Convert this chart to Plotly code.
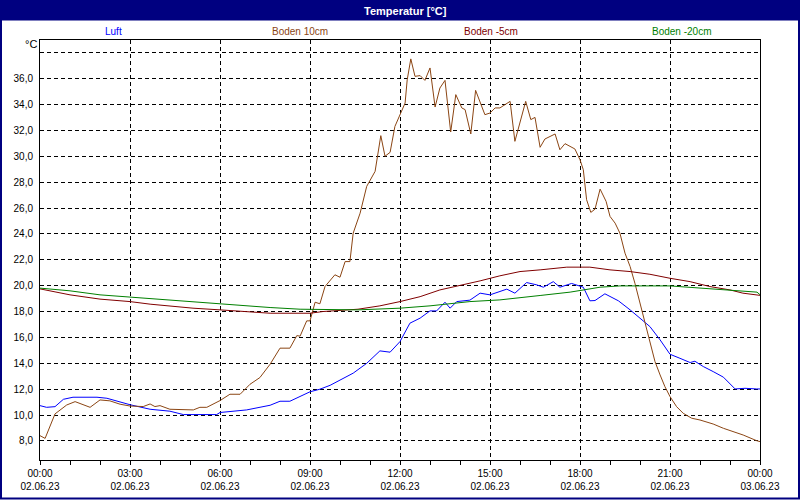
import plotly.graph_objects as go

# ---- data (hours since 02.06.23 00:00, temperature in °C) ----
luft_h = [0, 0.22, 0.5, 0.78, 1.1, 1.9, 2.23, 3.0, 3.67, 4.33, 4.78, 5.89, 6.0, 6.89, 7.67, 8.0, 8.33,
          9.0, 9.33, 9.67, 10.44, 10.89, 11.33, 11.67, 12.0, 12.33, 12.67, 13.0, 13.22, 13.5, 13.67,
          13.89, 14.33, 14.67, 15.0, 15.56, 15.83, 16.22, 16.56, 16.78, 17.11, 17.33, 17.72, 18.11,
          18.33, 18.5, 18.83, 19.28, 19.67, 20.0, 20.33, 20.67, 21.0, 21.33, 21.67, 21.83, 22.11,
          22.44, 22.78, 23.17, 23.5, 23.89, 24.0]
luft_v = [10.73, 10.6, 10.65, 11.22, 11.38, 11.38, 11.3, 10.8, 10.45, 10.3, 10.04, 10.04, 10.2, 10.4,
          10.76, 11.07, 11.07, 11.8, 12.0, 12.3, 13.24, 14.0, 14.96, 14.86, 15.68, 17.1, 17.49, 18.05,
          18.05, 18.72, 18.26, 18.77, 18.88, 19.42, 19.29, 19.73, 19.42, 20.24, 20.06, 19.88, 20.31,
          19.88, 20.17, 19.88, 18.83, 18.85, 19.37, 18.83, 18.13, 17.49, 16.84, 15.81, 14.7, 14.39,
          14.06, 14.16, 13.75, 13.36, 12.93, 12.02, 12.07, 12.02, 12.02]

boden10_h = [0, 0.17, 0.5, 0.89, 1.17, 1.67, 2.0, 2.33, 2.67, 3.0, 3.44, 3.67, 3.83, 4.0, 4.33, 5.11,
             5.33, 5.56, 6.0, 6.33, 6.67, 7.0, 7.33, 7.67, 8.0, 8.33, 8.56, 8.67, 8.89, 9.0, 9.17,
             9.33, 9.5, 9.83, 10.0, 10.17, 10.33, 10.44, 10.67, 10.89, 11.17, 11.26, 11.36, 11.5,
             11.67, 11.83, 12.0, 12.17, 12.24, 12.36, 12.5, 12.67, 12.83, 13.0, 13.17, 13.33, 13.5,
             13.69, 13.86, 14.06, 14.17, 14.36, 14.52, 14.83, 15.0, 15.17, 15.33, 15.67, 15.83,
             16.19, 16.36, 16.5, 16.67, 16.83, 17.17, 17.33, 17.5, 17.83, 18.0, 18.11, 18.22, 18.36,
             18.5, 18.67, 18.87, 19.0, 19.17, 19.33, 19.5, 19.67, 19.83, 20.0, 20.17, 20.33, 20.5,
             20.67, 20.83, 21.0, 21.22, 21.44, 21.72, 22.0, 22.44, 22.78, 23.11, 23.44, 23.89, 24.0]
boden10_v = [8.41, 8.2, 10.09, 10.78, 11.04, 10.6, 11.17, 11.1, 10.84, 10.7, 10.66, 10.86, 10.66, 10.73,
             10.45, 10.4, 10.6, 10.6, 11.12, 11.61, 11.61, 12.38, 12.9, 13.93, 15.17, 15.17, 16.14,
             16.1, 17.28, 17.28, 18.72, 18.6, 19.93, 20.84, 20.65, 21.86, 21.86, 24.06, 25.6, 27.67,
             28.83, 30.0, 31.59, 30.0, 30.3, 32.3, 33.21, 34.11, 35.9, 37.52, 36.17, 36.23, 35.86,
             36.82, 33.8, 35.27, 35.86, 31.87, 34.76, 33.73, 33.6, 31.72, 35.09, 33.21, 33.34, 33.73,
             33.73, 34.24, 31.15, 34.24, 32.83, 33.0, 30.69, 31.33, 31.72, 30.5, 30.97, 30.56, 29.73,
             28.96, 26.64, 25.66, 25.91, 27.46, 26.51, 25.35, 24.83, 24.06, 22.51, 21.48, 20.19,
             18.65, 17.1, 15.56, 14.13, 13.1, 12.2, 11.43, 10.65, 10.14, 9.76, 9.62, 9.31, 8.98,
             8.72, 8.46, 8.02, 7.95]

boden5_h = [0, 0.33, 1, 2, 3, 3.67, 5.1, 6, 7.67, 9, 9.43, 10.6, 11.33, 12, 12.67, 13.33, 14, 14.67,
            15.33, 16, 16.67, 17.56, 18.33, 19, 19.67, 20.33, 21, 21.67, 22.33, 23, 23.43, 23.83, 24]
boden5_v = [19.75, 19.6, 19.29, 18.96, 18.77, 18.57, 18.26, 18.13, 17.87, 17.87, 18.0, 18.18, 18.44,
            18.77, 19.15, 19.67, 20.0, 20.37, 20.76, 21.09, 21.22, 21.43, 21.43, 21.22, 21.09, 20.88,
            20.57, 20.31, 19.93, 19.67, 19.42, 19.29, 19.25]

boden20_h = [0, 1, 2, 3, 4.33, 5.33, 6, 7.67, 8.67, 9.67, 10.6, 12, 13, 14.33, 15.33, 16.67, 17.67,
             18.67, 19.33, 21, 22, 23, 23.9, 24]
boden20_v = [19.81, 19.6, 19.29, 19.11, 18.9, 18.72, 18.57, 18.31, 18.18, 18.13, 18.13, 18.26, 18.44,
             18.77, 18.9, 19.24, 19.5, 19.88, 19.98, 19.98, 19.81, 19.67, 19.5, 19.3]

series_names = ["Luft", "Boden 10cm", "Boden -5cm", "Boden -20cm"]
series_colors = ["#0000FF", "#8B4513", "#800000", "#008000"]

tick_hours = [0, 3, 6, 9, 12, 15, 18, 21, 24]
tick_labels = ["00:00<br>02.06.23", "03:00<br>02.06.23", "06:00<br>02.06.23", "09:00<br>02.06.23",
               "12:00<br>02.06.23", "15:00<br>02.06.23", "18:00<br>02.06.23", "21:00<br>02.06.23",
               "00:00<br>03.06.23"]
y_ticks = [8, 10, 12, 14, 16, 18, 20, 22, 24, 26, 28, 30, 32, 34, 36, 38]
y_tick_labels = ["8,0", "10,0", "12,0", "14,0", "16,0", "18,0", "20,0", "22,0", "24,0", "26,0",
                 "28,0", "30,0", "32,0", "34,0", "36,0", ""]

FONT = "Liberation Sans"
GRID_DASH = "4px,3px"

fig = go.Figure()
for (h, v), name, col in zip([(luft_h, luft_v), (boden10_h, boden10_v), (boden5_h, boden5_v),
                              (boden20_h, boden20_v)], series_names, series_colors):
    fig.add_trace(go.Scatter(x=h, y=v, mode="lines", name=name,
                             line=dict(color=col, width=1), hoverinfo="skip"))

W, H = 800, 500
L, R, T, B = 40, 40, 40, 40
pw, ph = W - L - R, H - T - B


def px(x):
    return (x - L) / pw


def py(y):
    return (H - B - y) / ph


shapes = [
    # title bar
    dict(type="rect", xref="paper", yref="paper", x0=px(0), x1=px(800), y0=py(20.5), y1=py(-2),
         fillcolor="#000080", line=dict(width=0), layer="above"),
    # outer navy frame
    dict(type="rect", xref="paper", yref="paper", x0=px(1), x1=px(799), y0=py(498.5), y1=py(1),
         fillcolor="rgba(0,0,0,0)", line=dict(color="#000080", width=2), layer="above"),
]

annotations = [
    dict(text="<b>Temperatur [°C]</b>", xref="paper", yref="paper", x=px(405), y=py(10.5),
         showarrow=False, font=dict(family=FONT, size=11, color="white"),
         xanchor="center", yanchor="middle"),
    dict(text="°C", xref="paper", yref="paper", x=px(31), y=py(44), showarrow=False,
         font=dict(family=FONT, size=11, color="#000000"), xanchor="center", yanchor="middle"),
]
legend_x = [113, 300, 491, 681]
for name, col, lx in zip(series_names, series_colors, legend_x):
    annotations.append(dict(text=name, xref="paper", yref="paper", x=px(lx), y=py(31),
                            showarrow=False, font=dict(family=FONT, size=10, color=col),
                            xanchor="center", yanchor="middle"))

fig.update_layout(
    width=W, height=H,
    margin=dict(l=L, r=R, t=T, b=B, autoexpand=False),
    paper_bgcolor="white", plot_bgcolor="white",
    showlegend=False,
    separators=",.",
    font=dict(family=FONT, size=10, color="#000000"),
    shapes=shapes, annotations=annotations,
)
fig.update_xaxes(
    range=[0, 24], tickvals=tick_hours, ticktext=tick_labels, automargin=False,
    showgrid=True, gridcolor="black", griddash=GRID_DASH, gridwidth=1,
    showline=True, linecolor="black", linewidth=1, mirror=True,
    ticks="outside", ticklen=4, tickcolor="black",
    minor=dict(dtick=1, tick0=0, ticks="outside", ticklen=4, tickcolor="black", showgrid=False),
    zeroline=False, tickfont=dict(family=FONT, size=10, color="#000000"),
)
fig.update_yaxes(
    range=[6.53, 38.98], tickvals=y_ticks, ticktext=y_tick_labels, automargin=False,
    showgrid=True, gridcolor="black", griddash=GRID_DASH, gridwidth=1,
    showline=True, linecolor="black", linewidth=1, mirror=True,
    ticks="", ticklabelstandoff=4,
    zeroline=False, tickfont=dict(family=FONT, size=10, color="#000000"),
)

fig.write_html("out.html", config={"displayModeBar": False},
               post_script="document.body.style.margin='0';document.body.style.overflow='hidden';")
